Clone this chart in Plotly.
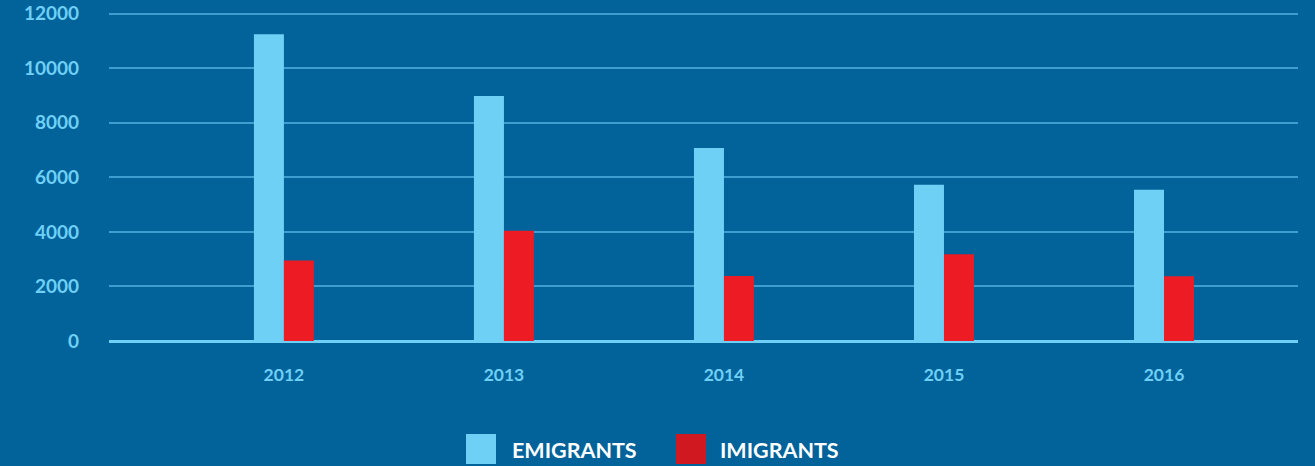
import plotly.graph_objects as go

# ---- data ----
years = ["2012", "2013", "2014", "2015", "2016"]
emigrants = [11250, 8980, 7075, 5730, 5550]
imigrants = [2950, 4040, 2380, 3180, 2370]
series_names = ["EMIGRANTS", "IMIGRANTS"]
y_ticks = [0, 2000, 4000, 6000, 8000, 10000, 12000]

# ---- style ----
BG = "#02639b"
LIGHT = "#6fd0f6"
RED = "#ed1c24"
RED_LEGEND = "#cf1820"
GRID = "#3e9ed0"
FONT = "Lato"

W, H = 1315, 466
ML, MR, MT, MB = 109, 17, 11, 125

fig = go.Figure()
fig.add_trace(go.Bar(x=years, y=emigrants, name=series_names[0],
                     marker=dict(color=LIGHT, line=dict(width=0)), showlegend=False))
fig.add_trace(go.Bar(x=years, y=imigrants, name=series_names[1],
                     marker=dict(color=RED, line=dict(width=0)), showlegend=False))

fig.update_layout(
    width=W, height=H,
    margin=dict(l=ML, r=MR, t=MT, b=MB, pad=0, autoexpand=False),
    paper_bgcolor=BG, plot_bgcolor=BG,
    barmode="group", bargap=0.7273, bargroupgap=0,
    font=dict(family=FONT, color=LIGHT),
)
fig.update_xaxes(
    type="category", range=[-0.795, 4.609], automargin=False,
    showgrid=False, showline=False, zeroline=False, ticks="",
    tickfont=dict(family=FONT, size=17.5, color=LIGHT, weight="bold"),
    ticklabelstandoff=21,
)
fig.update_yaxes(
    range=[0, 12100], tickvals=y_ticks, tickformat="d", automargin=False,
    showgrid=True, gridcolor=GRID, gridwidth=2,
    zeroline=True, zerolinecolor=LIGHT, zerolinewidth=3,
    showline=False, ticks="",
    tickfont=dict(family=FONT, size=19, color=LIGHT, weight="bold"),
    ticklabelstandoff=29,
)

# ---- custom legend (large swatches) ----
pw = W - ML - MR
ph = H - MT - MB
def px_x(px):
    return (px - ML) / pw
def px_y(py):
    return (H - MB - py) / ph

legend_items = [
    (series_names[0], LIGHT, 466, 510),
    (series_names[1], RED_LEGEND, 676, 718),
]
for label, color, sx, tx in legend_items:
    fig.add_shape(type="rect", xref="paper", yref="paper",
                  x0=px_x(sx), x1=px_x(sx + 30), y0=px_y(464), y1=px_y(434),
                  fillcolor=color, line=dict(width=0))
    fig.add_annotation(xref="paper", yref="paper", x=px_x(tx), y=px_y(449.5),
                       xanchor="left", yanchor="middle", showarrow=False,
                       text=label,
                       font=dict(family=FONT, size=21.5, color="white", weight="bold"))

fig.write_html("out.html",
               config={"displayModeBar": False},
               post_script="document.body.style.margin='0';document.body.style.overflow='hidden';")
